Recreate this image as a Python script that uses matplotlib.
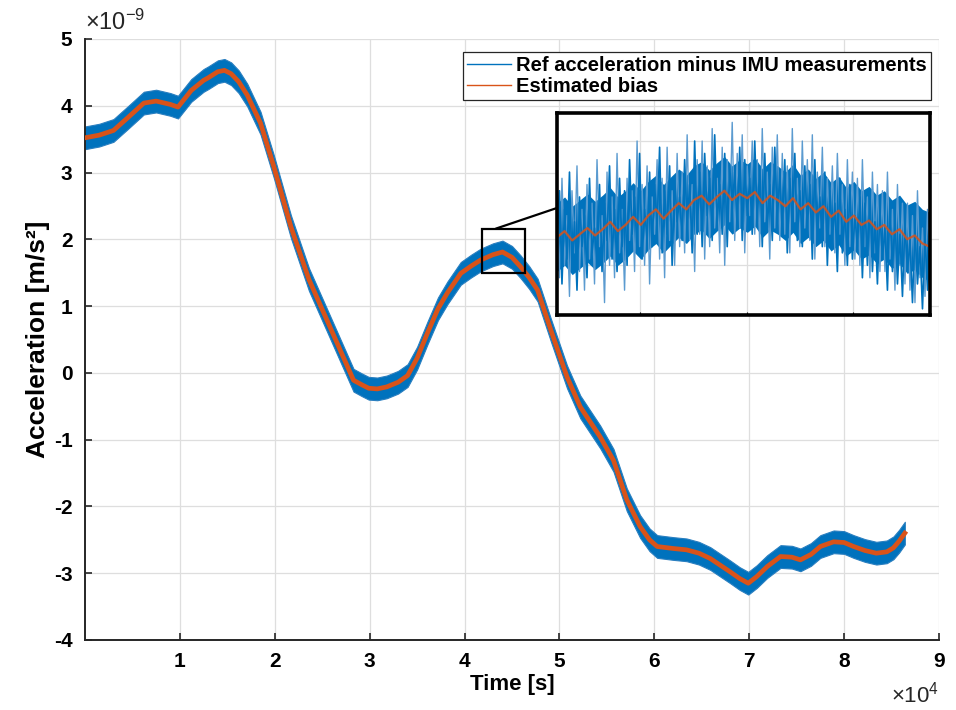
import numpy as np
import matplotlib
matplotlib.use("Agg")
import matplotlib.pyplot as plt
from matplotlib.patches import Rectangle, ConnectionPatch
from matplotlib.lines import Line2D
from matplotlib.ticker import FuncFormatter

plt.rcParams["font.family"] = ["Liberation Sans", "DejaVu Sans"]
plt.rcParams["axes.unicode_minus"] = False
plt.rcParams["mathtext.fontset"] = "custom"
plt.rcParams["mathtext.rm"] = "Liberation Sans"

# ---- data (time in 1e4 s, acceleration in 1e-9 m/s^2)
t_knots = [0.0, 0.15, 0.3, 0.45, 0.62, 0.75, 0.9, 0.98, 1.12, 1.25, 1.3, 1.40,
           1.47, 1.54, 1.62, 1.71, 1.85, 1.99, 2.17, 2.36, 2.55, 2.69, 2.83,
           2.92, 2.99, 3.08, 3.18, 3.30, 3.40, 3.50, 3.61, 3.72, 3.82, 3.96,
           4.07, 4.17, 4.30, 4.40, 4.50, 4.59, 4.68, 4.77, 4.91, 5.08, 5.22,
           5.43, 5.57, 5.71, 5.85, 5.95, 6.03, 6.20, 6.34, 6.47, 6.59, 6.80,
           6.90, 6.99, 7.08, 7.19, 7.33, 7.45, 7.54, 7.65, 7.75, 7.89, 8.00,
           8.10, 8.22, 8.34, 8.45, 8.52, 8.58, 8.64]
bias_knots = [3.52, 3.56, 3.63, 3.82, 4.04, 4.07, 4.02, 3.98, 4.23, 4.38, 4.42,
              4.51, 4.53, 4.48, 4.36, 4.16, 3.74, 3.09, 2.19, 1.40, 0.79, 0.34,
              -0.11, -0.18, -0.23, -0.24, -0.21, -0.14, -0.04, 0.22, 0.60,
              0.96, 1.20, 1.49, 1.60, 1.69, 1.77, 1.81, 1.73, 1.59, 1.43, 1.24,
              0.64, -0.06, -0.51, -0.96, -1.31, -1.90, -2.30, -2.50, -2.60,
              -2.63, -2.65, -2.70, -2.78, -2.98, -3.08, -3.15, -3.05, -2.90,
              -2.75, -2.76, -2.80, -2.72, -2.60, -2.53, -2.54, -2.60, -2.66,
              -2.70, -2.68, -2.62, -2.52, -2.40]
noise_half_width = 0.17

# zoomed window (inset), measurements and estimated bias
inset_t_range = [4.222, 4.572]
inset_core_half_width = 0.055
inset_meas = [
    1.80, 1.68, 1.84, 1.70, 1.78, 1.65, 1.82, 1.72, 1.86, 1.69,
    1.79, 1.66, 1.83, 1.71, 1.80, 1.67, 1.87, 1.73, 1.78, 1.64,
    1.85, 1.70, 1.81, 1.68, 1.88, 1.72, 1.79, 1.66, 1.84, 1.74,
    1.82, 1.69, 1.90, 1.73, 1.83, 1.70, 1.86, 1.67, 1.81, 1.75,
    1.87, 1.71, 1.84, 1.68, 1.89, 1.74, 1.82, 1.70, 1.88, 1.73,
    1.85, 1.72, 1.91, 1.74, 1.83, 1.69, 1.87, 1.75, 1.90, 1.71,
    1.86, 1.73, 1.92, 1.76, 1.84, 1.72, 1.89, 1.70, 1.87, 1.77,
    1.93, 1.74, 1.88, 1.76, 1.91, 1.72, 1.86, 1.78, 1.90, 1.75,
    1.87, 1.73, 1.92, 1.77, 1.85, 1.71, 1.89, 1.76, 1.91, 1.74,
    1.88, 1.75, 1.86, 1.72, 1.92, 1.77, 1.84, 1.73, 1.90, 1.76,
    1.87, 1.74, 1.91, 1.71, 1.85, 1.76, 1.89, 1.73, 1.84, 1.75,
    1.86, 1.72, 1.88, 1.75, 1.83, 1.70, 1.87, 1.73, 1.85, 1.71,
    1.84, 1.70, 1.87, 1.73, 1.81, 1.68, 1.85, 1.72, 1.83, 1.69,
    1.82, 1.69, 1.85, 1.71, 1.79, 1.66, 1.83, 1.70, 1.80, 1.67,
    1.80, 1.66, 1.78, 1.64, 1.82, 1.68, 1.76, 1.65, 1.79, 1.70,
]
inset_meas_b = [
    1.76, 1.82, 1.67, 1.79, 1.71, 1.85, 1.69, 1.77, 1.66, 1.81,
    1.73, 1.78, 1.68, 1.84, 1.72, 1.76, 1.70, 1.83, 1.69, 1.80,
    1.74, 1.86, 1.71, 1.79, 1.69, 1.84, 1.73, 1.82, 1.70, 1.87,
    1.75, 1.81, 1.72, 1.88, 1.71, 1.79, 1.74, 1.85, 1.73, 1.83,
    1.76, 1.89, 1.72, 1.82, 1.75, 1.86, 1.70, 1.84, 1.77, 1.81,
    1.74, 1.87, 1.76, 1.83, 1.72, 1.90, 1.75, 1.85, 1.73, 1.88,
    1.78, 1.84, 1.74, 1.91, 1.77, 1.83, 1.75, 1.88, 1.73, 1.86,
    1.79, 1.85, 1.76, 1.89, 1.74, 1.87, 1.78, 1.84, 1.75, 1.90,
    1.77, 1.86, 1.73, 1.88, 1.76, 1.83, 1.74, 1.89, 1.77, 1.85,
    1.75, 1.87, 1.72, 1.84, 1.76, 1.88, 1.74, 1.82, 1.73, 1.86,
    1.76, 1.83, 1.71, 1.87, 1.74, 1.81, 1.73, 1.85, 1.70, 1.82,
    1.74, 1.80, 1.69, 1.84, 1.72, 1.79, 1.70, 1.83, 1.71, 1.78,
    1.73, 1.81, 1.68, 1.80, 1.70, 1.82, 1.69, 1.77, 1.67, 1.79,
    1.71, 1.76, 1.66, 1.80, 1.69, 1.78, 1.67, 1.75, 1.65, 1.77,
    1.69, 1.74, 1.64, 1.76, 1.67, 1.73, 1.63, 1.75, 1.66, 1.72,
]
inset_bias = [
    1.745, 1.755, 1.740, 1.750, 1.760, 1.748, 1.758, 1.770, 1.755, 1.765,
    1.778, 1.765, 1.780, 1.790, 1.775, 1.788, 1.800, 1.790, 1.805, 1.812,
    1.798, 1.810, 1.820, 1.805, 1.815, 1.808, 1.818, 1.800, 1.812, 1.805,
    1.795, 1.808, 1.790, 1.800, 1.785, 1.795, 1.778, 1.788, 1.770, 1.780,
    1.765, 1.772, 1.758, 1.765, 1.750, 1.758, 1.742, 1.748, 1.735, 1.730,
]

BLUE = "#0072BD"
LIGHT_BLUE = "#5b9bd0"
ORANGE = "#D95319"
GRID = "#dedede"
AX_COL = "#262626"

t = np.array(t_knots) * 1e4
bias = np.array(bias_knots) * 1e-9
half = noise_half_width * 1e-9

fig = plt.figure(figsize=(9.56, 7.10), dpi=100)
ax = fig.add_axes([0.0889, 0.0986, 0.8933, 0.8465])

ax.fill_between(t, bias - half, bias + half, color=BLUE, lw=0.8,
                edgecolor="#2a7fc0", zorder=2)
ax.plot(t, bias, color=ORANGE, lw=3.4, solid_joinstyle="round", zorder=3)

ax.set_xlim(0, 9e4)
ax.set_ylim(-4e-9, 5e-9)
ax.set_xticks(np.arange(1, 10) * 1e4)
ax.set_yticks(np.arange(-4, 6) * 1e-9)
ax.xaxis.set_major_formatter(FuncFormatter(lambda v, p: f"{v / 1e4:g}"))
ax.yaxis.set_major_formatter(FuncFormatter(lambda v, p: f"{round(v / 1e-9):d}"))

ax.grid(True, color=GRID, lw=0.9, zorder=0)
ax.set_axisbelow(True)
for side in ["top", "right"]:
    ax.spines[side].set_visible(False)
for side in ["left", "bottom"]:
    ax.spines[side].set_color(AX_COL)
    ax.spines[side].set_linewidth(1.4)
ax.tick_params(direction="in", length=5, width=1.2, color=AX_COL,
               labelsize=15, pad=9)
for lab in ax.get_xticklabels() + ax.get_yticklabels():
    lab.set_fontweight("bold")

ax.text(0.0, 1.006, r"$\times\mathregular{10^{-9}}$", transform=ax.transAxes,
        fontsize=17, ha="left", va="bottom", color=AX_COL)
ax.text(1.0, -0.112, r"$\times\mathregular{10^{4}}$", transform=ax.transAxes,
        fontsize=16, ha="right", va="bottom", color=AX_COL)

ax.set_xlabel("Time [s]", fontsize=16, fontweight="bold", labelpad=2)
ax.set_ylabel("Acceleration [m/s²]", fontsize=19, fontweight="bold", labelpad=3)

handles = [Line2D([], [], color=BLUE, lw=1.0),
           Line2D([], [], color=ORANGE, lw=1.0)]
leg = ax.legend(handles, ["Ref acceleration minus IMU measurements", "Estimated bias"],
                loc="upper right", bbox_to_anchor=(0.9906, 0.978),
                prop={"size": 14.5, "weight": "bold"}, fancybox=False,
                framealpha=1, edgecolor=AX_COL, handlelength=2.2,
                handletextpad=0.25, borderpad=0.2, labelspacing=0.1,
                borderaxespad=0)
leg.get_frame().set_linewidth(0.9)

# zoom box on the main axes
ax.add_patch(Rectangle((4.18e4, 1.49e-9), 0.46e4, 0.67e-9, fill=False,
                       ec="black", lw=1.6, zorder=5))

# inset
axins = fig.add_axes([0.5826, 0.5563, 0.3902, 0.2845])
ti = np.linspace(inset_t_range[0], inset_t_range[1], len(inset_meas)) * 1e4
ti_b = np.linspace(inset_t_range[0], inset_t_range[1], len(inset_meas_b)) * 1e4
tb = np.linspace(inset_t_range[0], inset_t_range[1], len(inset_bias)) * 1e4
ib = np.array(inset_bias) * 1e-9
core = inset_core_half_width * 1e-9
axins.plot(ti, np.array(inset_meas) * 1e-9, color=LIGHT_BLUE, lw=1.0)
axins.fill_between(tb, ib - core, ib + core, color=BLUE, lw=0)
axins.plot(ti_b, np.array(inset_meas_b) * 1e-9, color=BLUE, lw=1.2)
axins.plot(tb, ib, color=ORANGE, lw=1.6, alpha=0.85)
axins.set_xlim(inset_t_range[0] * 1e4, inset_t_range[1] * 1e4)
axins.set_ylim(1.62e-9, 1.945e-9)
axins.set_xticks([4.3e4, 4.4e4, 4.5e4])
axins.set_yticks([1.7e-9, 1.9e-9])
axins.tick_params(direction="in", length=2, width=0.8, labelbottom=False,
                  labelleft=False, left=False)
axins.grid(True, color=GRID, lw=0.9)
axins.set_axisbelow(True)
for sp in axins.spines.values():
    sp.set_linewidth(2.6)
    sp.set_color("black")

con = ConnectionPatch(xyA=(4.33e4, 2.16e-9), coordsA=ax.transData,
                      xyB=(0.0, 0.53), coordsB=axins.transAxes,
                      color="black", lw=1.6)
fig.add_artist(con)

fig.savefig("out.png", dpi=100)
